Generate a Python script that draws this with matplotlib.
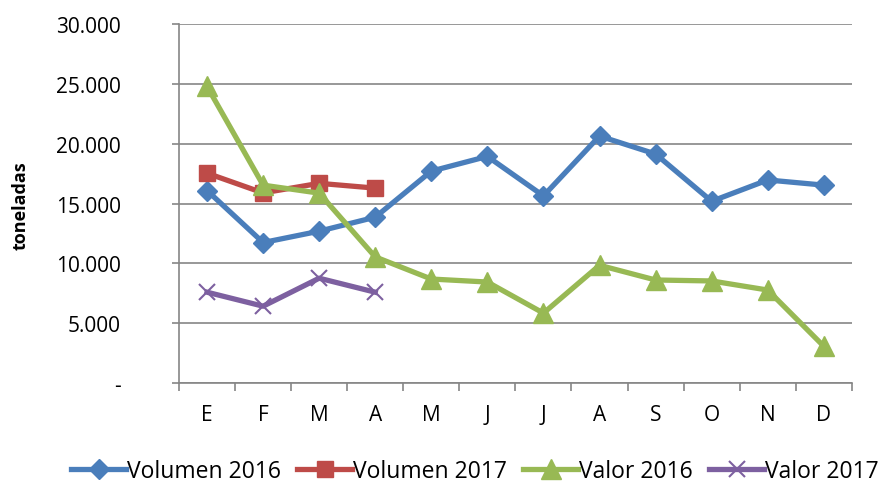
import numpy as np
import matplotlib.pyplot as plt
from matplotlib.ticker import FuncFormatter, FixedLocator

# Datos
meses = ['E', 'F', 'M', 'A', 'M', 'J', 'J', 'A', 'S', 'O', 'N', 'D']
volumen_2016 = [16100, 11750, 12700, 13870, 17720, 18950, 15650, 20650, 19150, 15200, 16980, 16550]
volumen_2017 = [17550, 15900, 16700, 16300]
valor_2016 = [24800, 16550, 15880, 10550, 8700, 8450, 5850, 9850, 8620, 8540, 7780, 3080]
valor_2017 = [7600, 6430, 8770, 7600]

plt.rcParams['font.family'] = ['Open Sans', 'DejaVu Sans']

fig = plt.figure(figsize=(8.8, 4.85), dpi=100)
ax = fig.add_axes([0.2034, 0.208, 0.7646, 0.740])

x = np.arange(len(meses))
ax.plot(x, volumen_2016, color='#4A7EBB', lw=3.8, marker='D', ms=10, label='Volumen 2016')
ax.plot(x[:4], volumen_2017, color='#BE4B48', lw=3.8, marker='s', ms=11.5, label='Volumen 2017')
ax.plot(x, valor_2016, color='#98B954', lw=3.8, marker='^', ms=14, label='Valor 2016')
ax.plot(x[:4], valor_2017, color='#7D60A0', lw=3.8, marker='x', ms=11, mew=1.5, label='Valor 2017')

ax.set_xlim(-0.5, 11.5)
ax.set_ylim(0, 30000)
ax.set_xticks(x)
ax.set_xticklabels(meses, fontsize=15)
ax.xaxis.set_minor_locator(FixedLocator(np.arange(-0.5, 12, 1)))
ax.tick_params(axis='x', which='major', length=0, pad=15)
ax.tick_params(axis='x', which='minor', length=6, color='#868686', width=1.2)

ax.set_yticks(np.arange(0, 30001, 5000))
ax.yaxis.set_major_formatter(FuncFormatter(lambda v, p: '-' if v == 0 else f'{int(v):,}'.replace(',', '.')))
ax.tick_params(axis='y', labelsize=15, length=5, color='#868686', width=1.2, pad=37)

ax.grid(axis='y', color='#868686', lw=1.2)
ax.set_axisbelow(True)
for s in ['top', 'right']:
    ax.spines[s].set_visible(False)
for s in ['left', 'bottom']:
    ax.spines[s].set_color('#868686')
    ax.spines[s].set_linewidth(1.2)

ax.set_ylabel('toneladas', fontsize=13, fontweight='bold')
ax.yaxis.set_label_coords(-0.222, 0.496)

ax.legend(loc='center', bbox_to_anchor=(0.44, -0.245), ncol=4, frameon=False,
          fontsize=16.5, handlelength=2.4, handletextpad=0.05, columnspacing=0.7)

fig.savefig('out.png', dpi=100)
